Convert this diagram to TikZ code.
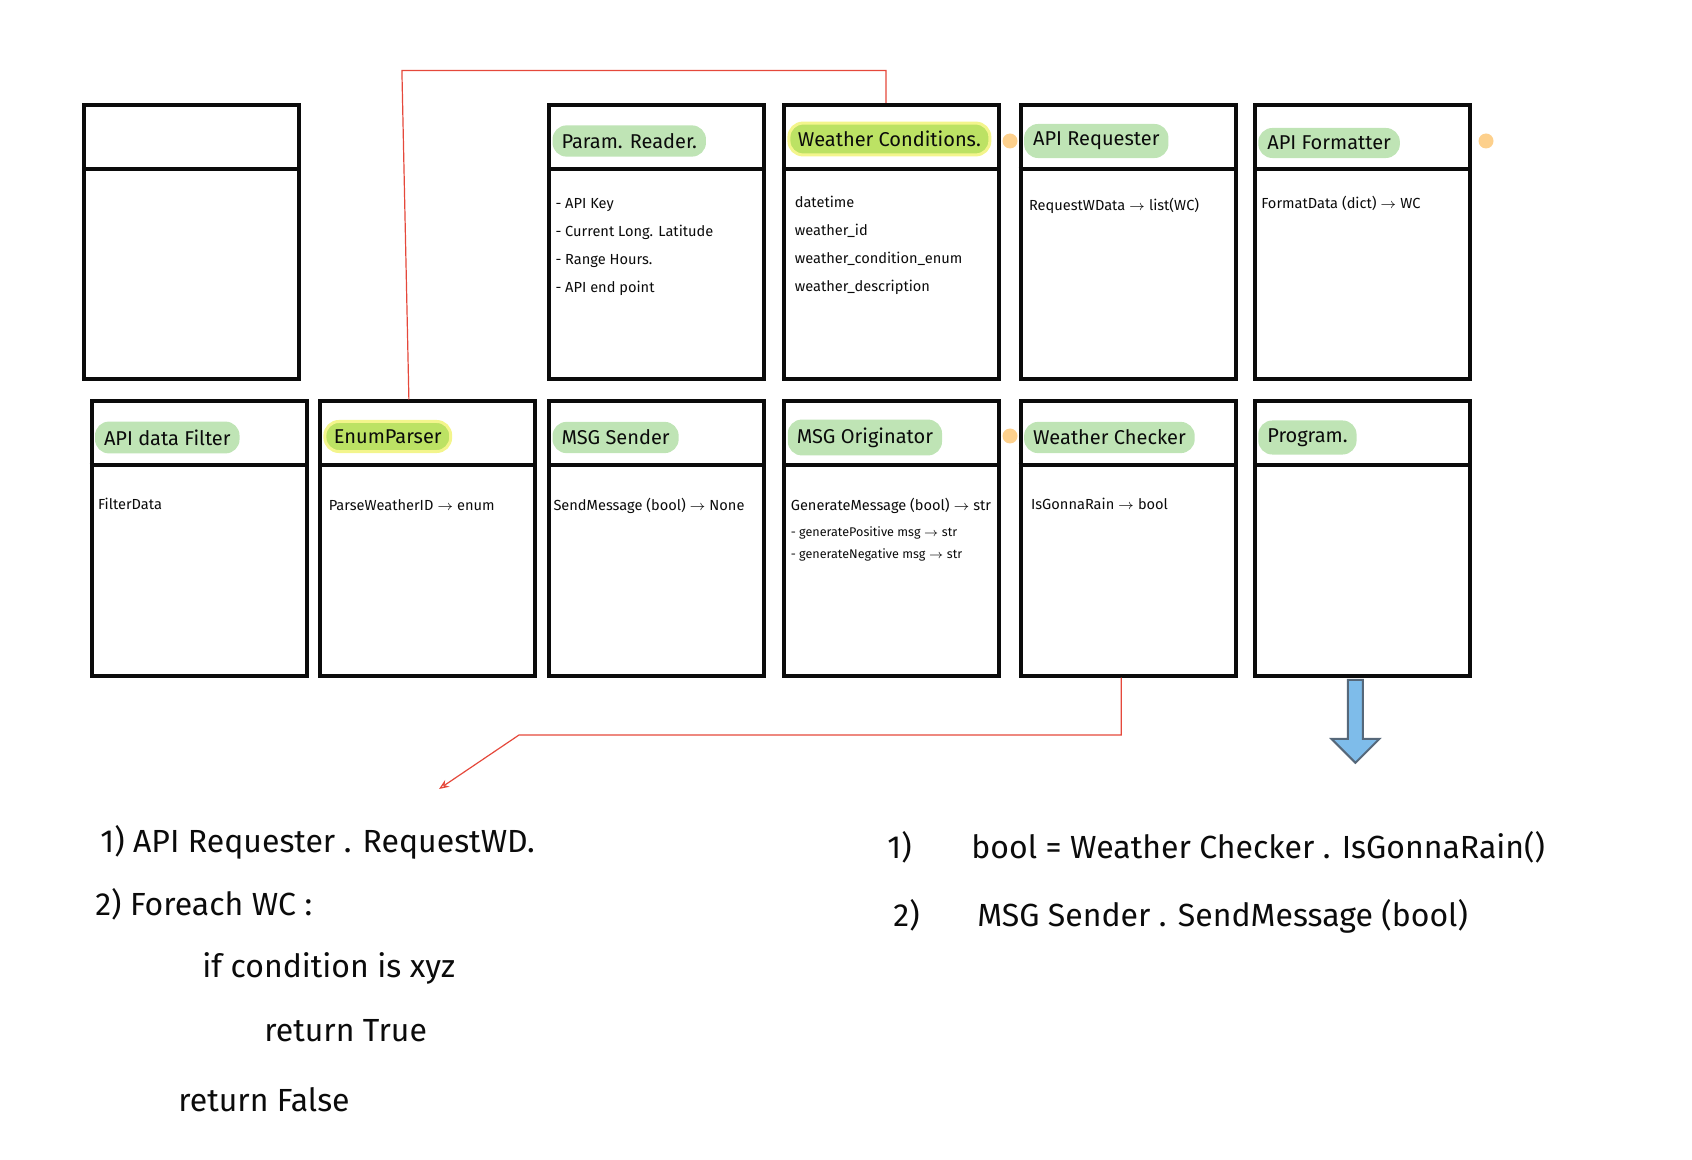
\documentclass[tikz,border=0pt]{standalone}
\usepackage{fontspec}
\setmainfont{Fira Sans}
\usetikzlibrary{arrows.meta,positioning,calc,shapes.arrows}
\definecolor{inkblack}{HTML}{0B0B0B}
\definecolor{hlgreen}{HTML}{BFE4B5}
\definecolor{hllime}{HTML}{BCE264}
\definecolor{hlyellow}{HTML}{F3F58C}
\definecolor{dotorange}{HTML}{FDD08C}
\definecolor{linkred}{HTML}{E5483B}
\definecolor{arrowblue}{HTML}{7EBCEA}
\definecolor{arrowedge}{HTML}{56687A}

\begin{document}
\begin{tikzpicture}[
    x=0.5pt, y=-0.5pt,
    cls/.style={draw=inkblack, line width=2pt, minimum width=107.5pt,
                minimum height=137pt, inner sep=0pt},
    rule/.style={draw=inkblack, line width=2pt},
    head/.style={anchor=west, fill=hlgreen, rounded corners=7pt, inner xsep=4.5pt,
                 inner ysep=4pt, font=\fontsize{10}{12}\selectfont, text=inkblack},
    headlime/.style={head, fill=hllime, draw=hlyellow, line width=1.5pt},
    body/.style={anchor=north west, align=left, inner sep=0pt,
                 font=\fontsize{7.3}{14}\selectfont, text=inkblack},
    note/.style={anchor=base west, inner sep=0pt, font=\fontsize{16}{19}\selectfont,
                 text=inkblack},
    dot/.style={circle, fill=dotorange, minimum size=7.5pt, inner sep=0pt},
    link/.style={draw=linkred, line width=0.6pt},
    downarrow/.style={single arrow, shape border rotate=270, fill=arrowblue,
                      draw=arrowedge, line width=1pt, minimum width=24pt,
                      minimum height=41.5pt, inner sep=2.75pt},
  ]
  \useasboundingbox (0,0) rectangle (1692,1160);

  % markers
  \node[dot] (dotA) at (1010,141) {};
  \node[dot] (dotB) at (1486,141) {};
  \node[dot] (dotC) at (1010,436) {};

  % top row
  \node[cls] (blank) at (191.5,242) {};
  \node[cls] (reader) at (656.6,242) {};
  \node[cls] (cond) at (891.9,242) {};
  \node[cls] (requester) at (1128.2,242) {};
  \node[cls] (formatter) at (1362.4,242) {};
  % bottom row
  \node[cls] (filter) at (199.1,538.5) {};
  \node[cls] (enum) at (427.9,538.5) {};
  \node[cls] (sender) at (656.6,538.5) {};
  \node[cls] (origin) at (891.9,538.5) {};
  \node[cls] (checker) at (1128.2,538.5) {};
  \node[cls] (program) at (1362.4,538.5) {};

  % header rules
  \foreach \n in {blank,reader,cond,requester,formatter,filter,enum,sender,origin,checker,program}
    \draw[rule] ($(\n.north west)+(0,66)$) -- ($(\n.north east)+(0,66)$);

  % headers
  \node[head] (readerT) at ($(reader.north west)+(5,38)$) {Param. Reader.};
  \node[headlime] (condT) at ($(cond.north west)+(5,36)$) {Weather Conditions.};
  \node[head] (requesterT) at ($(requester.north west)+(5,38)$) {API Requester};
  \node[head] (formatterT) at ($(formatter.north west)+(5,40)$) {API Formatter};
  \node[head] (filterT) at ($(filter.north west)+(5,38)$) {API data Filter};
  \node[headlime] (enumT) at ($(enum.north west)+(5,37)$) {EnumParser};
  \node[head] (senderT) at ($(sender.north west)+(5,38)$) {MSG Sender};
  \node[head] (originT) at ($(origin.north west)+(5,38)$) {MSG Originator};
  \node[head] (checkerT) at ($(checker.north west)+(5,38)$) {Weather Checker};
  \node[head] (programT) at ($(program.north west)+(5,38)$) {Program.};

  % members
  \node[body] (readerB) at ($(reader.north west)+(8,95)$)
    {- API Key\\- Current Long. Latitude\\- Range Hours.\\- API end point};
  \node[body] (condB) at ($(cond.north west)+(12,93)$)
    {datetime\\weather\_id\\weather\_condition\_enum\\weather\_description};
  \node[body] (requesterB) at ($(requester.north west)+(10,95)$)
    {RequestWData $\to$ list(WC)};
  \node[body] (formatterB) at ($(formatter.north west)+(8,93)$)
    {FormatData (dict) $\to$ WC};
  \node[body] (filterB) at ($(filter.north west)+(8,98)$) {FilterData};
  \node[body] (enumB) at ($(enum.north west)+(10,100)$) {ParseWeatherID $\to$ enum};
  \node[body] (senderB) at ($(sender.north west)+(6,98)$) {SendMessage (bool) $\to$ None};
  \node[body] (originB) at ($(origin.north west)+(8,98)$)
    {GenerateMessage (bool) $\to$ str\\[-1pt]
     {\fontsize{6.3}{11}\selectfont - generatePositive msg $\to$ str}\\[-3pt]
     {\fontsize{6.3}{11}\selectfont - generateNegative msg $\to$ str}};
  \node[body] (checkerB) at ($(checker.north west)+(12,98)$) {IsGonnaRain $\to$ bool};

  % notes
  \node[note] (plan1) at (100,852) {1) API Requester . RequestWD.};
  \node[note] (plan2) at (95,915) {2) Foreach WC :};
  \node[note] (plan3) at (202,977) {if condition is xyz};
  \node[note] (plan4) at (264,1041) {return True};
  \node[note] (plan5) at (178,1111) {return False};
  \node[note] (call1n) at (887,858) {1)};
  \node[note] (call1) at (971,858) {bool = Weather Checker . IsGonnaRain()};
  \node[note] (call2n) at (893,926) {2)};
  \node[note] (call2) at (977,926) {MSG Sender . SendMessage (bool)};

  % links
  \draw[link] ($(enum.north)+(-19,0)$) -- ($(enum.north)+(-26,-329)$) -| ($(cond.north)+(-6,0)$);
  \coordinate (hint) at (439,789);
  \draw[link,-{Stealth[open,length=5pt,width=4pt]}] ($(checker.south)+(-7,0)$)
        |- ($(hint)+(80,-54)$) -- (hint);
  \node[downarrow] (outarrow) at ($(program.south)+(-7,40)$) {};
\end{tikzpicture}
\end{document}
